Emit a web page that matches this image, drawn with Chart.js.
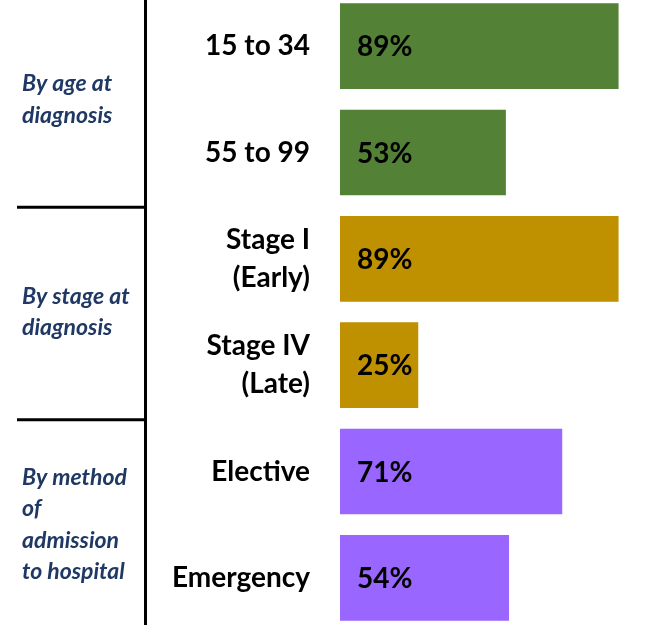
<!DOCTYPE html>
<html>
<head>
<meta charset="utf-8">
<script src="https://cdn.jsdelivr.net/npm/chart.js@4"></script>
<style>
  html, body { margin: 0; padding: 0; background: #fff; overflow: hidden; }
  body { width: 667px; height: 625px; position: relative; }
  #chart { position: absolute; left: 0; top: -7px; }
</style>
</head>
<body>
<canvas id="chart" width="667" height="638"></canvas>
<script>
// categories (multi-line labels as arrays)
const categories = [["15 to 34"], ["55 to 99"], ["Stage I", "(Early)"], ["Stage IV", "(Late)"], ["Elective"], ["Emergency"]];
const values = [89, 53, 89, 25, 71, 54];

// groups on the left
const groupLabels = [["By age at", "diagnosis"], ["By stage at", "diagnosis"], ["By method", "of", "admission", "to hospital"]];
const groupSizes = [2, 2, 2];
const groupColors = ["#538135", "#BF9000", "#9966FF"];

const barColors = [];
groupSizes.forEach((n, g) => { for (let i = 0; i < n; i++) barColors.push(groupColors[g]); });

const groupPlugin = {
  id: "groups",
  afterDatasetsDraw(chart) {
    const ctx = chart.ctx;
    const meta = chart.getDatasetMeta(0);
    ctx.save();
    ctx.fillStyle = "#000";
    ctx.font = "bold 28px Lato";
    ctx.textAlign = "left";
    ctx.textBaseline = "middle";
    meta.data.forEach((bar, i) => {
      ctx.fillText(values[i] + "%", bar.base + 17, bar.y + 1);
    });
    ctx.restore();
  },
  afterDraw(chart) {
    const ctx = chart.ctx;
    const y = chart.scales.y;
    ctx.save();
    ctx.strokeStyle = "#000";
    ctx.lineWidth = 3;
    // vertical divider
    ctx.beginPath();
    ctx.moveTo(145.5, 0);
    ctx.lineTo(145.5, chart.height);
    ctx.stroke();

    let start = 0;
    ctx.fillStyle = "#1F3864";
    ctx.font = "italic bold 23px Lato";
    ctx.textAlign = "left";
    ctx.textBaseline = "middle";
    groupSizes.forEach((n, g) => {
      const top = y.getPixelForValue(start);
      const bot = y.getPixelForValue(start + n - 1);
      const mid = (top + bot) / 2;
      const lines = groupLabels[g];
      const lh = 31.5;
      lines.forEach((t, k) => {
        ctx.fillText(t, 22, mid + (k - (lines.length - 1) / 2) * lh);
      });
      // separator between groups
      if (g < groupSizes.length - 1) {
        const sy = (bot + y.getPixelForValue(start + n)) / 2 + 1.5;
        ctx.beginPath();
        ctx.moveTo(17, sy);
        ctx.lineTo(146, sy);
        ctx.stroke();
      }
      start += n;
    });
    ctx.restore();
  }
};

new Chart(document.getElementById("chart").getContext("2d"), {
  type: "bar",
  data: {
    labels: categories,
    datasets: [{
      data: values,
      backgroundColor: barColors,
      borderWidth: 0,
      categoryPercentage: 1,
      barPercentage: 0.805
    }]
  },
  options: {
    indexAxis: "y",
    responsive: false,
    devicePixelRatio: 1,
    animation: false,
    layout: { padding: { left: 0, right: 14, top: 0, bottom: 0 } },
    plugins: { legend: { display: false }, tooltip: { enabled: false } },
    scales: {
      x: { display: false, min: 0, max: 100 },
      y: {
        grid: { display: false, drawTicks: false },
        border: { display: false },
        ticks: { color: "#000", padding: 30, font: { family: "Lato", size: 28, weight: "bold", lineHeight: 1.35 } },
        afterFit(s) { s.width = 340; s.paddingTop = 0; s.paddingBottom = 0; }
      }
    }
  },
  plugins: [groupPlugin]
});
</script>
</body>
</html>
